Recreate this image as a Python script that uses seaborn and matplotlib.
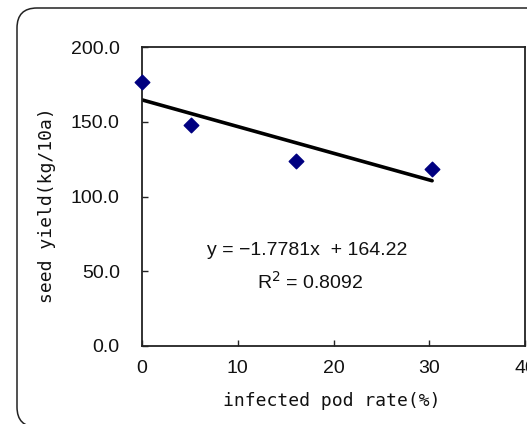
import matplotlib
matplotlib.use("Agg")
import matplotlib.pyplot as plt
from matplotlib.patches import FancyBboxPatch
import seaborn as sns
import pandas as pd

# data
infected_rate = [0.0, 5.1, 16.1, 30.3]
seed_yield = [176.8, 147.6, 124.0, 118.2]
x_ticks = [0, 10, 20, 30, 40]
y_ticks = [0, 50, 100, 150, 200]
eq_text = "y = \u22121.7781x  + 164.22"
r2_text = "R$^2$ = 0.8092"

sns.set_theme(style="white")
plt.rcParams["font.family"] = ["Liberation Sans", "DejaVu Sans"]

df = pd.DataFrame({"rate": infected_rate, "yield": seed_yield})

fig = plt.figure(figsize=(5.27, 4.24), dpi=100)
fig.patch.set_facecolor("white")
ax = fig.add_axes([142 / 527, 78 / 424, 383 / 527, 299 / 424])

sns.regplot(data=df, x="rate", y="yield", ax=ax, ci=None, truncate=True,
            marker="D",
            scatter_kws={"color": "#000080", "s": 55, "edgecolors": "#000080",
                         "alpha": 1.0, "clip_on": False, "zorder": 3},
            line_kws={"color": "black", "lw": 2.6, "zorder": 2})

ax.set_xlim(0, 40)
ax.set_ylim(0, 200)
ax.set_xticks(x_ticks)
ax.set_yticks(y_ticks)
ax.set_xticklabels([str(t) for t in x_ticks])
ax.set_yticklabels([f"{t:.1f}" for t in y_ticks])
ax.tick_params(axis="both", direction="in", length=4, width=1, color="#222222",
               labelsize=14, labelcolor="#111111")
ax.tick_params(axis="y", pad=16, left=True)
ax.tick_params(axis="x", pad=10, bottom=True)
for s in ax.spines.values():
    s.set_visible(True)
    s.set_color("#222222")
    s.set_linewidth(1.3)

mono = ["DejaVu Sans Mono"]
ax.set_xlabel("infected pod rate(%)", fontsize=13, family=mono, color="#111111")
ax.set_ylabel("seed yield(kg/10a)", fontsize=13, family=mono, color="#111111")
ax.xaxis.set_label_coords(0.495, -0.155)
ax.yaxis.set_label_coords(-0.225, 0.47)

ax.text(0.43, 0.32, eq_text, transform=ax.transAxes, ha="center", va="center",
        fontsize=14, color="#111111")
ax.text(0.44, 0.215, r2_text, transform=ax.transAxes, ha="center", va="center",
        fontsize=14, color="#111111")

frame = FancyBboxPatch((0.17, -0.03), 5.4, 4.16 + 0.03, boxstyle="round,pad=0,rounding_size=0.2",
                       transform=fig.dpi_scale_trans, fill=False, edgecolor="#222222",
                       linewidth=1.1)
fig.add_artist(frame)

fig.savefig("out.png", dpi=100, facecolor="white")
